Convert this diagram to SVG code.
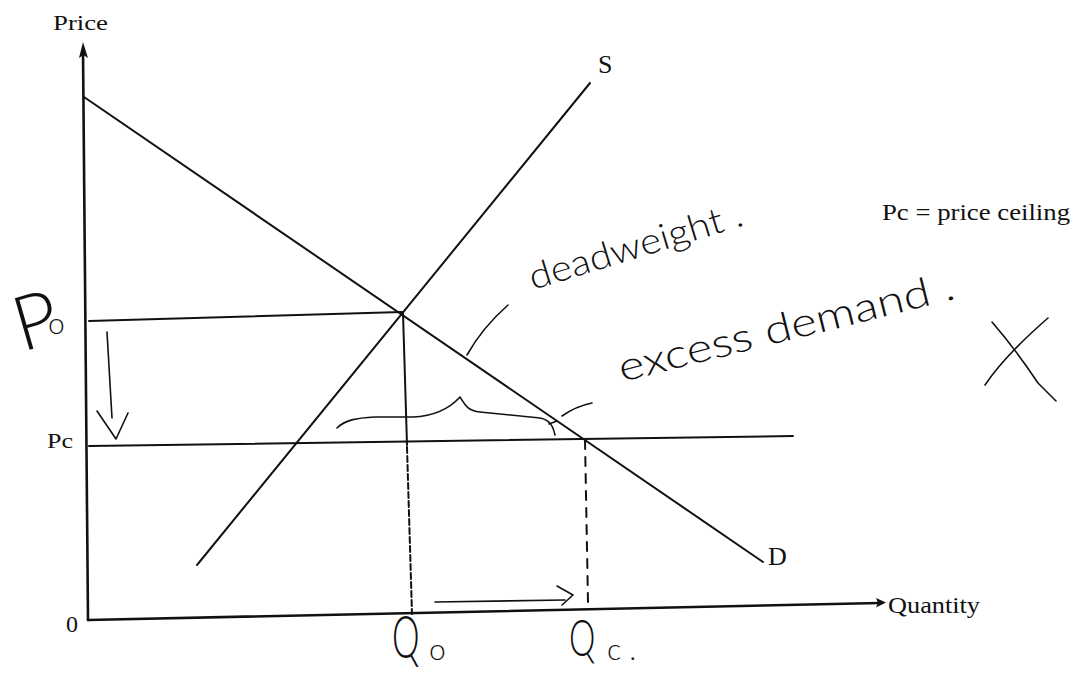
<svg xmlns="http://www.w3.org/2000/svg" width="1082" height="675" viewBox="0 0 1082 675">
<style>
.ax{stroke:#111;stroke-width:2.6;fill:none;stroke-linecap:round}
.ln{stroke:#111;stroke-width:2;fill:none;stroke-linecap:round}
.hw{stroke:#111;stroke-width:1.6;fill:none;stroke-linecap:round;stroke-linejoin:round}
.pr{font-family:"Liberation Serif",serif;fill:#111}
.hand{font-family:Lato,"DejaVu Sans",sans-serif;font-weight:300;fill:#111}
</style>
<rect width="1082" height="675" fill="#fff"/>
<g id="axes">
<line class="ax" x1="83" y1="50" x2="88" y2="620"/>
<polygon points="83,42 79,58 83.5,55 88,58" fill="#111"/>
<line class="ax" x1="88" y1="620" x2="880" y2="603"/>
<polygon points="886,602.5 876,598 878,603 876,607.5" fill="#111"/>
</g>
<g id="curves">
<line id="D" class="ln" x1="84" y1="97" x2="763" y2="562"/>
<line id="S" class="ln" x1="197" y1="565" x2="590" y2="83"/>
</g>
<g id="guides">
<line class="ln" x1="89" y1="321" x2="402" y2="312"/>
<line class="ln" x1="89" y1="446" x2="793" y2="436"/>
<line class="ln" x1="403" y1="313" x2="407" y2="445"/>
<line class="ln" x1="407" y1="447" x2="412" y2="614" stroke-width="1.4" stroke-dasharray="6 3"/>
<line class="ln" x1="585" y1="440" x2="588" y2="602" stroke-width="1.6" stroke-dasharray="9 8"/>
</g>
<g id="labels">
<text class="pr" x="53" y="30" font-size="22" textLength="55" lengthAdjust="spacingAndGlyphs">Price</text>
<text class="pr" x="598" y="73" font-size="26">S</text>
<text class="pr" x="768" y="565" font-size="26">D</text>
<text class="pr" x="47" y="448" font-size="22" textLength="26" lengthAdjust="spacingAndGlyphs">Pc</text>
<text class="pr" x="66" y="632" font-size="24">0</text>
<text class="pr" x="888" y="613" font-size="24" textLength="92" lengthAdjust="spacingAndGlyphs">Quantity</text>
<text class="pr" x="882" y="220" font-size="24" textLength="188" lengthAdjust="spacingAndGlyphs">Pc = price ceiling</text>
</g>
<g id="handwriting">
<text class="hand" transform="translate(22,352) rotate(-16)" font-size="76">P</text>
<text class="hand" x="48" y="334" font-size="30">o</text>
<text class="hand" transform="translate(392,658) scale(0.58,1)" font-size="60">Q</text>
<text class="hand" x="429" y="660" font-size="30">o</text>
<text class="hand" transform="translate(569,656) scale(0.64,1)" font-size="52">Q</text>
<text class="hand" x="607" y="660" font-size="30">c .</text>
<text class="hand" transform="translate(533,290) rotate(-17)" font-size="36" textLength="222" lengthAdjust="spacingAndGlyphs">deadweight .</text>
<text class="hand" transform="translate(622,382) rotate(-14)" font-size="40" textLength="345" lengthAdjust="spacingAndGlyphs">excess demand .</text>
</g>
<g id="annotations">
<path class="hw" d="M107,332 L112,418"/>
<path class="hw" d="M97,411 L116,439 L128,413"/>
<path class="hw" d="M435,602 L565,600"/>
<path class="hw" d="M557,586 L573,595 L562,605"/>
<path class="hw" d="M508,305 Q482,328 467,355"/>
<path class="hw" d="M337,428 C345,420 356,418 375,417 L413,417 C435,416 450,408 460,397 C465,405 468,411 480,412 L540,418 C550,420 553,426 555,435"/>
<path class="hw" d="M549,424 L557,421"/>
<path class="hw" d="M562,416 C572,409 582,405 592,403"/>
<path class="hw" d="M1048,318 C1025,338 1002,360 985,385" stroke-width="2"/>
<path class="hw" d="M992,322 C1012,345 1028,368 1038,383 L1056,401" stroke-width="2"/>
</g>
</svg>
